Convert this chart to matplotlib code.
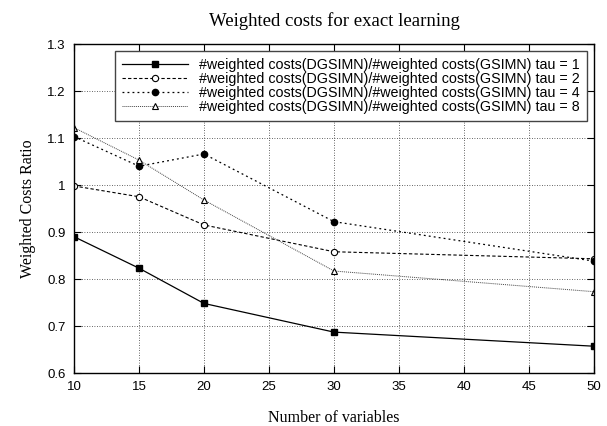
import matplotlib
matplotlib.use("Agg")
import matplotlib.pyplot as plt
from matplotlib.ticker import FormatStrFormatter

# data
n_vars = [10, 15, 20, 30, 50]
tau_1 = [0.890, 0.823, 0.748, 0.687, 0.657]
tau_2 = [0.998, 0.975, 0.915, 0.858, 0.843]
tau_4 = [1.103, 1.040, 1.066, 0.922, 0.838]
tau_8 = [1.122, 1.053, 0.968, 0.817, 0.773]
taus = [1, 2, 4, 8]
x_ticks = [10, 15, 20, 25, 30, 35, 40, 45, 50]
y_ticks = [0.6, 0.7, 0.8, 0.9, 1.0, 1.1, 1.2, 1.3]

sans = ["Liberation Sans", "DejaVu Sans"]
serif = ["Liberation Serif", "DejaVu Serif"]

fig = plt.figure(figsize=(6.07, 4.26), dpi=100)
ax = fig.add_axes([0.1219, 0.1244, 0.8567, 0.7723])

label = "#weighted costs(DGSIMN)/#weighted costs(GSIMN) tau = {}"
ax.plot(n_vars, tau_1, "-", color="black", lw=0.9, marker="s", ms=5,
        label=label.format(taus[0]))
ax.plot(n_vars, tau_2, "--", color="black", lw=0.8, marker="o", ms=4.5,
        mfc="white", mew=0.8, dashes=(3, 2), label=label.format(taus[1]))
ax.plot(n_vars, tau_4, ":", color="black", lw=0.9, marker="o", ms=4.5,
        dashes=(1.5, 2.5), label=label.format(taus[2]))
ax.plot(n_vars, tau_8, ":", color="#444444", lw=0.7, marker="^", ms=4.5,
        mfc="white", mec="black", mew=0.8, dashes=(1, 1),
        label=label.format(taus[3]))

ax.set_xlim(10, 50)
ax.set_ylim(0.6, 1.3)
ax.set_xticks(x_ticks)
ax.set_yticks(y_ticks)
ax.yaxis.set_major_formatter(FormatStrFormatter("%g"))
ax.tick_params(direction="in", top=True, right=True, length=5, width=0.8,
               labelsize=9.5, pad=6)
for lab in ax.get_xticklabels() + ax.get_yticklabels():
    lab.set_family(sans)
ax.grid(True, ls=(0, (1, 2)), color="black", lw=0.6, alpha=0.8)
for sp in ax.spines.values():
    sp.set_linewidth(1.0)

ax.set_title("Weighted costs for exact learning", family=serif, fontsize=13.5,
             pad=13)
ax.set_xlabel("Number of variables", family=serif, fontsize=11.5, labelpad=12)
ax.set_ylabel("Weighted Costs Ratio", family=serif, fontsize=11.5, labelpad=8)

leg = ax.legend(loc="upper right", prop={"family": sans, "size": 10.3},
                fancybox=False, framealpha=1, edgecolor="#444444",
                borderpad=0.5, labelspacing=0.0, handlelength=4.6,
                handletextpad=0.8, borderaxespad=0.5)
leg.get_frame().set_linewidth(1.0)

fig.savefig("out.png", dpi=100)
plt.close(fig)
